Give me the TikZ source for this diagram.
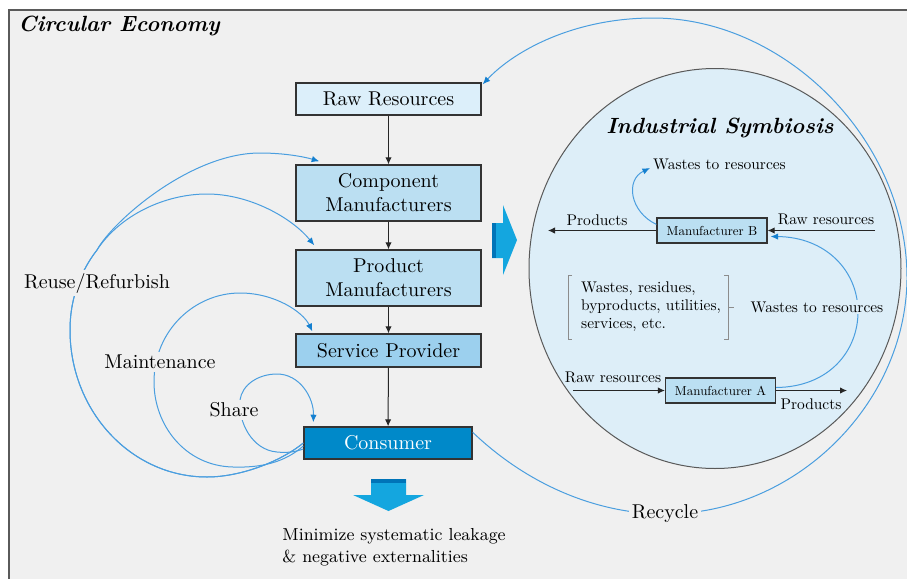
\documentclass[tikz,border=0pt]{standalone}
\usepackage{graphicx}
\usetikzlibrary{arrows.meta,calc}

\definecolor{bgray}{HTML}{F0F0F0}
\definecolor{framec}{HTML}{5A5A5A}
\definecolor{boxA}{HTML}{DCEFFA}
\definecolor{boxB}{HTML}{BBDFF2}
\definecolor{boxC}{HTML}{9CD0EE}
\definecolor{boxD}{HTML}{0089C9}
\definecolor{symb}{HTML}{DDEEF8}
\definecolor{flowc}{HTML}{4A9EDF}
\definecolor{tipc}{HTML}{1580D0}
\definecolor{bigA}{HTML}{14A6DF}
\definecolor{bigB}{HTML}{0074B8}

\newcommand{\mfgtext}[1]{\scalebox{0.65}{#1}}

\begin{document}
\begin{tikzpicture}[x=0.5pt,y=-0.5pt,
  stage/.style={draw=black!80, line width=0.7pt, minimum width=92.5pt,
    inner sep=0pt, align=center, font=\fontsize{10}{12}\selectfont},
  mfg/.style={draw=black!80, fill=boxB, line width=0.6pt, minimum width=55pt,
    minimum height=12.5pt, inner sep=0pt, font=\fontsize{10}{12}\selectfont},
  chain/.style={draw=black!85, line width=0.5pt, -{Latex[length=3.5pt,width=3.2pt]}},
  flow/.style={draw=flowc, line width=0.5pt, -{Latex[length=3.8pt,width=3.2pt,color=tipc]}},
  lab/.style={fill=bgray, inner sep=1.5pt, font=\fontsize{10}{12}\selectfont},
  small/.style={inner sep=1.2pt, scale=0.773, font=\fontsize{10}{11.7}\selectfont},
  heading/.style={font=\fontsize{11}{13}\bfseries\itshape\selectfont}
]
\useasboundingbox (0,0) rectangle (907,579);
\clip (0,0) rectangle (907,579);
\fill[white] (0,0) rectangle (907,579);
\draw[framec, line width=0.8pt, fill=bgray] (9,10) rectangle (940,610);

\node[heading, anchor=west, inner sep=0pt] (title) at (18,26) {Circular Economy};

% industrial symbiosis disc
\draw[black!65, line width=0.5pt, fill=symb] (715,268.5) ellipse [x radius=93pt, y radius=100pt];
\node[heading] (istitle) at (720,128) {Industrial Symbiosis};

% value chain
\node[stage, fill=boxA, minimum height=16pt] (raw) at (388.5,99) {Raw Resources};
\node[stage, fill=boxB, minimum height=28pt] (comp) at (388.5,193) {Component\\Manufacturers};
\node[stage, fill=boxB, minimum height=28pt] (prod) at (388.5,278) {Product\\Manufacturers};
\node[stage, fill=boxC, minimum height=16.5pt] (serv) at (388.5,350.5) {Service Provider};
\node[stage, fill=boxD, text=white, minimum width=84pt, minimum height=16pt] (cons) at (388,443) {Consumer};

\draw[chain] (raw) -- (comp);
\draw[chain] (comp) -- (prod);
\draw[chain] (prod) -- (serv);
\draw[chain] (serv) -- (cons);

% block arrows
\fill[bigA] (492,223) -- (503,223) -- (503,205) -- (517,240) -- (503,275) -- (503,258) -- (492,258) -- cycle;
\fill[bigB] (492,223) rectangle (496,258);
\fill[bigA] (371,479) -- (406,479) -- (406,495) -- (424,495) -- (388.5,511) -- (353,495) -- (371,495) -- cycle;
\fill[bigB] (371,479) rectangle (406,483);

\node[anchor=north west, align=left, inner sep=0pt, font=\fontsize{8.7}{11}\selectfont] (leak) at (282,528)
  {Minimize systematic leakage\\\& negative externalities};

% inner loops
\draw[flow] (cons.west) .. controls (280,462) and (240,477) .. (207,477)
  .. controls (131,477) and (70,411) .. (70,330)
  .. controls (70,295) and (83,268) .. (97,250)
  .. controls (112,222) and (190,153) .. (260,153)
  .. controls (285,153) and (305,157) .. ($(comp.north west)+(24,-3)$);
\draw[flow] (cons.west) .. controls (280,462) and (240,477) .. (207,477)
  .. controls (131,477) and (70,411) .. (70,330)
  .. controls (70,295) and (83,268) .. (97,250)
  .. controls (120,215) and (165,194) .. (207,194)
  .. controls (250,194) and (292,218) .. ($(prod.north west)+(19,-4)$);
\draw[flow] ($(cons.west)+(0,3)$) .. controls (285,462) and (262,468) .. (233,467)
  .. controls (185,466) and (154,425) .. (154,382)
  .. controls (154,330) and (195,293) .. (240,293)
  .. controls (275,293) and (303,312) .. ($(serv.north west)+(17,-2)$);
\draw[flow] ($(cons.west)+(0,6)$) .. controls (295,452) and (287,453) .. (277,452)
  .. controls (252,450) and (238,422) .. (240,400)
  .. controls (242,385) and (258,374) .. (277,374)
  .. controls (300,374) and (314,398) .. ($(cons.north west)+(10,-4)$);

% recycling loop
\draw[flow] ($(cons.north east)+(0,6)$) .. controls (530,487) and (600,514) .. (665,514)
  .. controls (795,514) and (905,405) .. (907,280)
  .. controls (908,140) and (785,18) .. (653,18)
  .. controls (575,18) and (515,50) .. ($(raw.north east)+(1,2)$);

\node[lab] (reuse) at (97,283) {Reuse/Refurbish};
\node[lab] (maint) at (160,362) {Maintenance};
\node[lab] (share) at (234,410) {Share};
\node[lab] (recyc) at (665,514) {Recycle};

% symbiosis exchanges
\node[mfg] (mB) at (712,230.5) {\mfgtext{Manufacturer B}};
\node[mfg] (mA) at (720.5,390.5) {\mfgtext{Manufacturer A}};

\coordinate (pBout) at (548,230.5);
\coordinate (rBin) at (875,230.5);
\coordinate (rAin) at (573,390.5);
\coordinate (pAout) at (847,390.5);
\coordinate (wB) at (650,168);

\draw[chain] (mB.west) -- (pBout);
\draw[chain] (rBin) -- (mB.east);
\draw[chain] (rAin) -- (mA.west);
\draw[chain] (mA.east) -- (pAout);

\node[small] (lpB) at (597,220) {Products};
\node[small] (lrB) at (826,219) {Raw resources};
\node[small] (lrA) at (613,377) {Raw resources};
\node[small] (lpA) at (811,404) {Products};

\draw[flow] ($(mB.north west)+(0,7)$) .. controls (630,212) and (625,180) .. (wB);
\node[small, anchor=west] (lwB) at (651,164) {Wastes to resources};

\draw[flow] ($(mA.east)+(0,-3)$) .. controls (830,387) and (858,350) .. (858,312)
  .. controls (858,270) and (825,237) .. ($(mB.east)+(3,6)$);
\node[small, fill=symb] (lwA) at (817,307) {Wastes to resources};

\node[small, anchor=west, align=left] (res) at (579,307)
  {Wastes, residues,\\byproducts, utilities,\\services, etc.};
\draw[black!45, line width=0.5pt] (572,275) -- (568,275) -- (568,339) -- (572,339);
\draw[black!45, line width=0.5pt] (724,275) -- (728,275) -- (728,339) -- (724,339);
\draw[black!45, line width=0.5pt] (728,307) -- (734,307);
\end{tikzpicture}
\end{document}
